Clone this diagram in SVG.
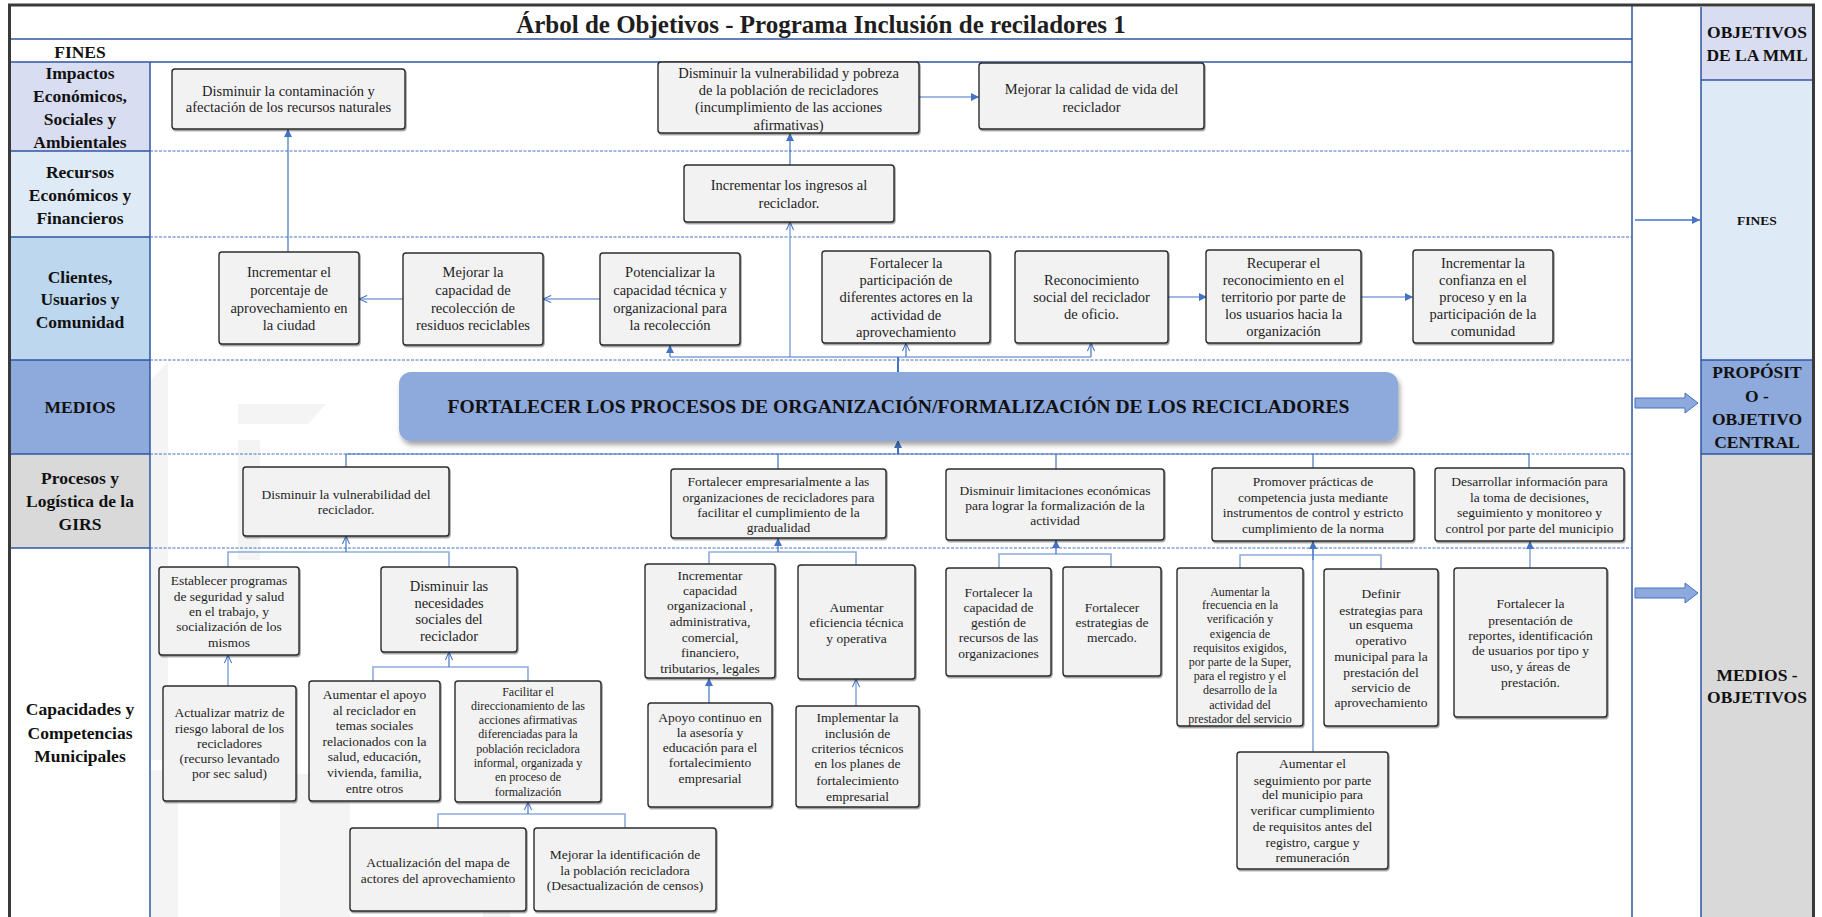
<svg xmlns="http://www.w3.org/2000/svg" width="1822" height="917" viewBox="0 0 1822 917">
<defs>
<style>
.box{fill:#F2F2F2;stroke:#2B2B2B;stroke-width:1.4;filter:url(#sh)}
.t{font-family:"Liberation Serif","Times New Roman",serif;fill:#1E1E1E;text-anchor:middle}
.a{font-size:14.5px}
.b{font-size:13.5px}
.c{font-size:12px}
.lbl{font-family:"Liberation Serif","Times New Roman",serif;font-weight:bold;font-size:17.5px;fill:#111;text-anchor:middle}
.grid{stroke:#2F55A4;stroke-width:1.5;fill:none}
.dash{stroke:#4472C4;stroke-width:1;stroke-dasharray:3 1.5;fill:none}
.cn{stroke:#4472C4;stroke-width:1.2;fill:none}
.cl{stroke:#8FAADC;stroke-width:1.6;fill:none}
.wm{fill:#F4F4F4}
.blk{fill:#8EA9DB;stroke:#4472C4;stroke-width:1}
</style>
<filter id="sh" x="-5%" y="-5%" width="115%" height="120%"><feDropShadow dx="1" dy="1.5" stdDeviation="0.7" flood-color="#000" flood-opacity="0.4"/></filter>
<filter id="sh2" x="-5%" y="-20%" width="110%" height="160%"><feDropShadow dx="2" dy="4" stdDeviation="2.5" flood-color="#000" flood-opacity="0.35"/></filter>
<marker id="af" viewBox="0 0 10 10" refX="10" refY="5" markerWidth="8" markerHeight="8" orient="auto" markerUnits="userSpaceOnUse"><path d="M0,0 L10,5 L0,10 z" fill="#4472C4"/></marker>
<marker id="ao" viewBox="0 0 10 10" refX="10" refY="5" markerWidth="9" markerHeight="9" orient="auto" markerUnits="userSpaceOnUse"><path d="M1,1 L10,5 L1,9" fill="none" stroke="#4472C4" stroke-width="1.2"/></marker>
</defs>

<rect x="0" y="0" width="1822" height="917" fill="#FFFFFF"/>

<g id="watermark">
<polygon class="wm" points="238,404 326,404 308,424 238,424"/>
<rect class="wm" x="238" y="440" width="22" height="120"/>
<polygon class="wm" points="151,380 168,362 168,760 151,760"/>
<rect class="wm" x="151" y="770" width="27" height="147"/>
<rect class="wm" x="280" y="774" width="70" height="143"/>
<rect class="wm" x="483" y="888" width="27" height="29"/>
</g>

<g id="frame">
<rect x="9" y="62" width="141" height="89" fill="#D9DDF2"/>
<rect x="9" y="151" width="141" height="86" fill="#DEEBF7"/>
<rect x="9" y="237" width="141" height="123" fill="#BDD7EE"/>
<rect x="9" y="360" width="141" height="94" fill="#8EA9DB"/>
<rect x="9" y="454" width="141" height="94" fill="#D9D9D9"/>
<rect x="1701" y="7" width="112" height="73" fill="#D9DDF2"/>
<rect x="1701" y="80" width="112" height="280" fill="#DEEBF7"/>
<rect x="1701" y="360" width="112" height="94" fill="#8EA9DB"/>
<rect x="1701" y="454" width="112" height="463" fill="#D9D9D9"/>
<path class="grid" d="M9,39 H1632 M9,62 H1632 M150,62 V917 M1632,5 V917 M9,151 H150 M9,237 H150 M9,360 H150 M9,454 H150 M9,548 H150"/>
<path class="dash" d="M150,151 H1632 M150,237 H1632 M150,360 H1632 M150,454 H1632 M150,548 H1632"/>
<path class="grid" d="M1701,7 V917 M1701,80 H1813 M1701,360 H1813 M1701,454 H1813"/>
<rect x="9.5" y="5" width="1804" height="940" fill="none" stroke="#3A3A3A" stroke-width="3"/>
</g>

<g id="labels">
<text class="t" x="821" y="33" style="font-size:25px;font-weight:bold">Árbol de Objetivos - Programa Inclusión de reciladores 1</text>
<text class="lbl" x="80" y="58">FINES</text>
<text class="lbl"><tspan x="80" y="79">Impactos</tspan><tspan x="80" y="102">Económicos,</tspan><tspan x="80" y="125">Sociales y</tspan><tspan x="80" y="148">Ambientales</tspan></text>
<text class="lbl"><tspan x="80" y="178">Recursos</tspan><tspan x="80" y="201">Económicos y</tspan><tspan x="80" y="224">Financieros</tspan></text>
<text class="lbl"><tspan x="80" y="283">Clientes,</tspan><tspan x="80" y="305">Usuarios y</tspan><tspan x="80" y="328">Comunidad</tspan></text>
<text class="lbl" x="80" y="413">MEDIOS</text>
<text class="lbl"><tspan x="80" y="484">Procesos y</tspan><tspan x="80" y="507">Logística de la</tspan><tspan x="80" y="530">GIRS</tspan></text>
<text class="lbl"><tspan x="80" y="715">Capacidades y</tspan><tspan x="80" y="739">Competencias</tspan><tspan x="80" y="762">Municipales</tspan></text>
<text class="lbl"><tspan x="1757" y="38">OBJETIVOS</tspan><tspan x="1757" y="61">DE LA MML</tspan></text>
<text class="lbl" x="1757" y="225" style="font-size:13.5px">FINES</text>
<text class="lbl"><tspan x="1757" y="378">PROPÓSIT</tspan><tspan x="1757" y="402">O  -</tspan><tspan x="1757" y="425">OBJETIVO</tspan><tspan x="1757" y="448">CENTRAL</tspan></text>
<text class="lbl"><tspan x="1757" y="681">MEDIOS -</tspan><tspan x="1757" y="703">OBJETIVOS</tspan></text>
</g>

<g id="connectors">
<path class="cn" d="M288,252 V129" marker-end="url(#af)"/>
<path class="cn" d="M919,97 H979" marker-end="url(#af)"/>
<path class="cn" d="M790,165 V133" marker-end="url(#af)"/>
<path class="cl" d="M790,357 V222" marker-end="url(#ao)"/>
<path class="cn" d="M600,299 H543" marker-end="url(#ao)"/>
<path class="cn" d="M403,299 H359" marker-end="url(#ao)"/>
<path class="cn" d="M670,357 H1091"/>
<path class="cn" d="M670,357 V345" marker-end="url(#af)"/>
<path class="cn" d="M906,357 V343" marker-end="url(#ao)"/>
<path class="cn" d="M1091,357 V343" marker-end="url(#ao)"/>
<path class="cn" d="M898,372 V357" style="stroke-width:2"/>
<path class="cn" d="M1168,297 H1207" marker-end="url(#af)"/>
<path class="cn" d="M1361,297 H1413" marker-end="url(#af)"/>
<path class="cn" d="M346,454 H1529 M346,454 V467 M778,454 V469 M1056,454 V469 M1313,454 V468 M1529,454 V468"/>
<path class="cn" d="M898,454 V440" style="stroke-width:2" marker-end="url(#af)"/>
<path class="cl" d="M228,567 V552 H449 V567"/>
<path class="cn" d="M346,552 V536" marker-end="url(#ao)"/>
<path class="cl" d="M228,686 V655" marker-end="url(#ao)"/>
<path class="cl" d="M373,681 V667 H528 V681"/>
<path class="cn" d="M449,667 V652" marker-end="url(#ao)"/>
<path class="cl" d="M438,828 V814 H625 V828"/>
<path class="cn" d="M528,814 V802" marker-end="url(#ao)"/>
<path class="cl" d="M709,564 V552 H856 V565"/>
<path class="cn" d="M778,552 V538" marker-end="url(#af)"/>
<path class="cn" d="M709,703 V678" marker-end="url(#af)"/>
<path class="cl" d="M856,706 V679" marker-end="url(#ao)"/>
<path class="cl" d="M999,568 V554 H1111 V567"/>
<path class="cn" d="M1056,554 V540" marker-end="url(#af)"/>
<path class="cl" d="M1240,568 V555 H1381 V569"/>
<path class="cl" d="M1313,752 V541"/>
<path class="cn" d="M1313,560 V541" marker-end="url(#af)"/>
<path class="cl" d="M1530,568 V541" marker-end="url(#af)"/>
<path class="cn" d="M1635,220 H1700" style="stroke-width:1.5" marker-end="url(#af)"/>
<polygon class="blk" points="1635,398 1685,398 1685,393 1698,403 1685,413 1685,408 1635,408"/>
<polygon class="blk" points="1635,588 1685,588 1685,583 1698,593 1685,603 1685,598 1635,598"/>
</g>

<g id="n1"><rect class="box" x="172" y="69" width="233" height="60" rx="3"/><text class="t a"><tspan x="288.5" y="95.5">Disminuir la contaminación y</tspan><tspan x="288.5" y="111.5">afectación de los recursos naturales</tspan></text></g>
<g id="n2"><rect class="box" x="658" y="62" width="261" height="71" rx="3"/><text class="t a"><tspan x="788.5" y="77.5">Disminuir la vulnerabilidad y pobreza</tspan><tspan x="788.5" y="94.5">de la población de recicladores</tspan><tspan x="788.5" y="112">(incumplimiento de las acciones</tspan><tspan x="788.5" y="129.5">afirmativas)</tspan></text></g>
<g id="n3"><rect class="box" x="979" y="63" width="225" height="66" rx="3"/><text class="t a"><tspan x="1091.5" y="93.5">Mejorar la calidad de vida del</tspan><tspan x="1091.5" y="111.5">reciclador</tspan></text></g>
<g id="n4"><rect class="box" x="684" y="165" width="210" height="57" rx="3"/><text class="t a"><tspan x="789" y="189.5">Incrementar los ingresos al</tspan><tspan x="789" y="207.5">reciclador.</tspan></text></g>

<g id="n5"><rect class="box" x="219" y="252" width="140" height="92" rx="3"/><text class="t a"><tspan x="289" y="277">Incrementar el</tspan><tspan x="289" y="295">porcentaje de</tspan><tspan x="289" y="312.5">aprovechamiento en</tspan><tspan x="289" y="330">la ciudad</tspan></text></g>
<g id="n6"><rect class="box" x="403" y="253" width="140" height="92" rx="3"/><text class="t a"><tspan x="473" y="277">Mejorar la</tspan><tspan x="473" y="295">capacidad de</tspan><tspan x="473" y="312.5">recolección de</tspan><tspan x="473" y="330">residuos reciclables</tspan></text></g>
<g id="n7"><rect class="box" x="600" y="253" width="140" height="92" rx="3"/><text class="t a"><tspan x="670" y="277">Potencializar la</tspan><tspan x="670" y="295">capacidad técnica y</tspan><tspan x="670" y="312.5">organizacional para</tspan><tspan x="670" y="330">la recolección</tspan></text></g>
<g id="n8"><rect class="box" x="822" y="251" width="168" height="92" rx="3"/><text class="t a"><tspan x="906" y="267.5">Fortalecer la</tspan><tspan x="906" y="284.5">participación de</tspan><tspan x="906" y="302">diferentes actores en la</tspan><tspan x="906" y="319.5">actividad de</tspan><tspan x="906" y="336.5">aprovechamiento</tspan></text></g>
<g id="n9"><rect class="box" x="1015" y="251" width="153" height="92" rx="3"/><text class="t a"><tspan x="1091.5" y="285">Reconocimiento</tspan><tspan x="1091.5" y="302">social del reciclador</tspan><tspan x="1091.5" y="319">de oficio.</tspan></text></g>
<g id="n10"><rect class="box" x="1206" y="250" width="155" height="93" rx="3"/><text class="t a"><tspan x="1283.5" y="267.5">Recuperar el</tspan><tspan x="1283.5" y="284.5">reconocimiento en el</tspan><tspan x="1283.5" y="302">territorio por parte de</tspan><tspan x="1283.5" y="319">los usuarios hacia la</tspan><tspan x="1283.5" y="336">organización</tspan></text></g>
<g id="n11"><rect class="box" x="1413" y="250" width="140" height="93" rx="3"/><text class="t a"><tspan x="1483" y="267.5">Incrementar la</tspan><tspan x="1483" y="284.5">confianza en el</tspan><tspan x="1483" y="302">proceso y en la</tspan><tspan x="1483" y="319">participación de la</tspan><tspan x="1483" y="336">comunidad</tspan></text></g>

<g id="purpose"><rect x="399" y="372" width="999" height="69" rx="12" fill="#8EA9DB" filter="url(#sh2)"/><text class="t" x="898.5" y="413" style="font-size:19.6px;font-weight:bold;fill:#111">FORTALECER LOS PROCESOS DE ORGANIZACIÓN/FORMALIZACIÓN DE LOS RECICLADORES</text></g>

<g id="n12"><rect class="box" x="243" y="467" width="206" height="69" rx="3"/><text class="t b"><tspan x="346" y="498.5">Disminuir la vulnerabilidad del</tspan><tspan x="346" y="514">reciclador.</tspan></text></g>
<g id="n13"><rect class="box" x="671" y="469" width="215" height="69" rx="3"/><text class="t b"><tspan x="778.5" y="486">Fortalecer empresarialmente a las</tspan><tspan x="778.5" y="502">organizaciones de recicladores para</tspan><tspan x="778.5" y="517">facilitar el cumplimiento de la</tspan><tspan x="778.5" y="532">gradualidad</tspan></text></g>
<g id="n14"><rect class="box" x="946" y="469" width="218" height="71" rx="3"/><text class="t b"><tspan x="1055" y="495">Disminuir limitaciones económicas</tspan><tspan x="1055" y="510">para lograr la formalización de la</tspan><tspan x="1055" y="525">actividad</tspan></text></g>
<g id="n15"><rect class="box" x="1212" y="468" width="202" height="73" rx="3"/><text class="t b"><tspan x="1313" y="486">Promover prácticas de</tspan><tspan x="1313" y="502">competencia justa mediante</tspan><tspan x="1313" y="517">instrumentos de control y estricto</tspan><tspan x="1313" y="533">cumplimiento de la norma</tspan></text></g>
<g id="n16"><rect class="box" x="1435" y="468" width="189" height="73" rx="3"/><text class="t b"><tspan x="1529.5" y="486">Desarrollar información para</tspan><tspan x="1529.5" y="502">la toma de decisiones,</tspan><tspan x="1529.5" y="517">seguimiento y monitoreo y</tspan><tspan x="1529.5" y="533">control por parte del municipio</tspan></text></g>

<g id="n17"><rect class="box" x="159" y="567" width="140" height="88" rx="3"/><text class="t b"><tspan x="229" y="585">Establecer programas</tspan><tspan x="229" y="601">de seguridad y salud</tspan><tspan x="229" y="616">en el trabajo, y</tspan><tspan x="229" y="631">socialización de los</tspan><tspan x="229" y="647">mismos</tspan></text></g>
<g id="n18"><rect class="box" x="381" y="567" width="136" height="85" rx="3"/><text class="t a"><tspan x="449" y="590.5">Disminuir las</tspan><tspan x="449" y="607.5">necesidades</tspan><tspan x="449" y="624">sociales del</tspan><tspan x="449" y="641">reciclador</tspan></text></g>
<g id="n19"><rect class="box" x="163" y="686" width="133" height="115" rx="3"/><text class="t b"><tspan x="229.5" y="717">Actualizar matriz de</tspan><tspan x="229.5" y="733">riesgo laboral de los</tspan><tspan x="229.5" y="748">recicladores</tspan><tspan x="229.5" y="763">(recurso levantado</tspan><tspan x="229.5" y="778">por sec salud)</tspan></text></g>
<g id="n20"><rect class="box" x="309" y="681" width="131" height="120" rx="3"/><text class="t b"><tspan x="374.5" y="699">Aumentar el apoyo</tspan><tspan x="374.5" y="715">al reciclador en</tspan><tspan x="374.5" y="730">temas sociales</tspan><tspan x="374.5" y="746">relacionados con la</tspan><tspan x="374.5" y="761">salud, educación,</tspan><tspan x="374.5" y="777">vivienda, familia,</tspan><tspan x="374.5" y="793">entre otros</tspan></text></g>
<g id="n21"><rect class="box" x="455" y="681" width="146" height="121" rx="3"/><text class="t c"><tspan x="528" y="695.5">Facilitar el</tspan><tspan x="528" y="709.8">direccionamiento de las</tspan><tspan x="528" y="724.1">acciones afirmativas</tspan><tspan x="528" y="738.4">diferenciadas para la</tspan><tspan x="528" y="752.7">población recicladora</tspan><tspan x="528" y="767">informal, organizada y</tspan><tspan x="528" y="781.3">en proceso de</tspan><tspan x="528" y="795.6">formalización</tspan></text></g>
<g id="n22"><rect class="box" x="350" y="828" width="176" height="83" rx="3"/><text class="t b"><tspan x="438" y="867">Actualización del mapa de</tspan><tspan x="438" y="883">actores del aprovechamiento</tspan></text></g>
<g id="n23"><rect class="box" x="534" y="828" width="182" height="83" rx="3"/><text class="t b"><tspan x="625" y="859">Mejorar la identificación de</tspan><tspan x="625" y="875">la población recicladora</tspan><tspan x="625" y="890">(Desactualización de censos)</tspan></text></g>
<g id="n24"><rect class="box" x="645" y="564" width="130" height="114" rx="3"/><text class="t b"><tspan x="710" y="580">Incrementar</tspan><tspan x="710" y="595">capacidad</tspan><tspan x="710" y="610">organizacional ,</tspan><tspan x="710" y="626">administrativa,</tspan><tspan x="710" y="642">comercial,</tspan><tspan x="710" y="657">financiero,</tspan><tspan x="710" y="673">tributarios, legales</tspan></text></g>
<g id="n25"><rect class="box" x="798" y="565" width="117" height="114" rx="3"/><text class="t b"><tspan x="856.5" y="612">Aumentar</tspan><tspan x="856.5" y="627">eficiencia técnica</tspan><tspan x="856.5" y="643">y operativa</tspan></text></g>
<g id="n26"><rect class="box" x="648" y="703" width="124" height="104" rx="3"/><text class="t b"><tspan x="710" y="722">Apoyo continuo en</tspan><tspan x="710" y="737">la asesoría y</tspan><tspan x="710" y="752">educación para el</tspan><tspan x="710" y="767">fortalecimiento</tspan><tspan x="710" y="783">empresarial</tspan></text></g>
<g id="n27"><rect class="box" x="796" y="706" width="123" height="101" rx="3"/><text class="t b"><tspan x="857.5" y="722">Implementar la</tspan><tspan x="857.5" y="738">inclusión de</tspan><tspan x="857.5" y="753">criterios técnicos</tspan><tspan x="857.5" y="768">en los planes de</tspan><tspan x="857.5" y="785">fortalecimiento</tspan><tspan x="857.5" y="801">empresarial</tspan></text></g>
<g id="n28"><rect class="box" x="946" y="568" width="105" height="108" rx="3"/><text class="t b"><tspan x="998.5" y="597">Fortalecer la</tspan><tspan x="998.5" y="612">capacidad de</tspan><tspan x="998.5" y="627">gestión de</tspan><tspan x="998.5" y="642">recursos de las</tspan><tspan x="998.5" y="658">organizaciones</tspan></text></g>
<g id="n29"><rect class="box" x="1063" y="567" width="98" height="109" rx="3"/><text class="t b"><tspan x="1112" y="612">Fortalecer</tspan><tspan x="1112" y="627">estrategias de</tspan><tspan x="1112" y="642">mercado.</tspan></text></g>
<g id="n30"><rect class="box" x="1177" y="568" width="126" height="158" rx="3"/><text class="t c"><tspan x="1240" y="595.5">Aumentar la</tspan><tspan x="1240" y="609">frecuencia en la</tspan><tspan x="1240" y="623">verificación y</tspan><tspan x="1240" y="637.5">exigencia de</tspan><tspan x="1240" y="651.5">requisitos exigidos,</tspan><tspan x="1240" y="665.5">por parte de la Super,</tspan><tspan x="1240" y="680">para el registro y el</tspan><tspan x="1240" y="694">desarrollo de la</tspan><tspan x="1240" y="708.5">actividad del</tspan><tspan x="1240" y="722.5">prestador del servicio</tspan></text></g>
<g id="n31"><rect class="box" x="1324" y="569" width="114" height="157" rx="3"/><text class="t b"><tspan x="1381" y="598">Definir</tspan><tspan x="1381" y="615">estrategias para</tspan><tspan x="1381" y="629">un esquema</tspan><tspan x="1381" y="645">operativo</tspan><tspan x="1381" y="661">municipal para la</tspan><tspan x="1381" y="677">prestación del</tspan><tspan x="1381" y="692">servicio de</tspan><tspan x="1381" y="707">aprovechamiento</tspan></text></g>
<g id="n32"><rect class="box" x="1454" y="568" width="153" height="149" rx="3"/><text class="t b"><tspan x="1530.5" y="608">Fortalecer la</tspan><tspan x="1530.5" y="625">presentación de</tspan><tspan x="1530.5" y="640">reportes, identificación</tspan><tspan x="1530.5" y="655">de usuarios por tipo y</tspan><tspan x="1530.5" y="671">uso, y áreas de</tspan><tspan x="1530.5" y="687">prestación.</tspan></text></g>
<g id="n33"><rect class="box" x="1237" y="752" width="151" height="117" rx="3"/><text class="t b"><tspan x="1312.5" y="768">Aumentar el</tspan><tspan x="1312.5" y="785">seguimiento por parte</tspan><tspan x="1312.5" y="799">del municipio para</tspan><tspan x="1312.5" y="815">verificar cumplimiento</tspan><tspan x="1312.5" y="831">de requisitos antes del</tspan><tspan x="1312.5" y="847">registro, cargue y</tspan><tspan x="1312.5" y="862">remuneración</tspan></text></g>
</svg>
